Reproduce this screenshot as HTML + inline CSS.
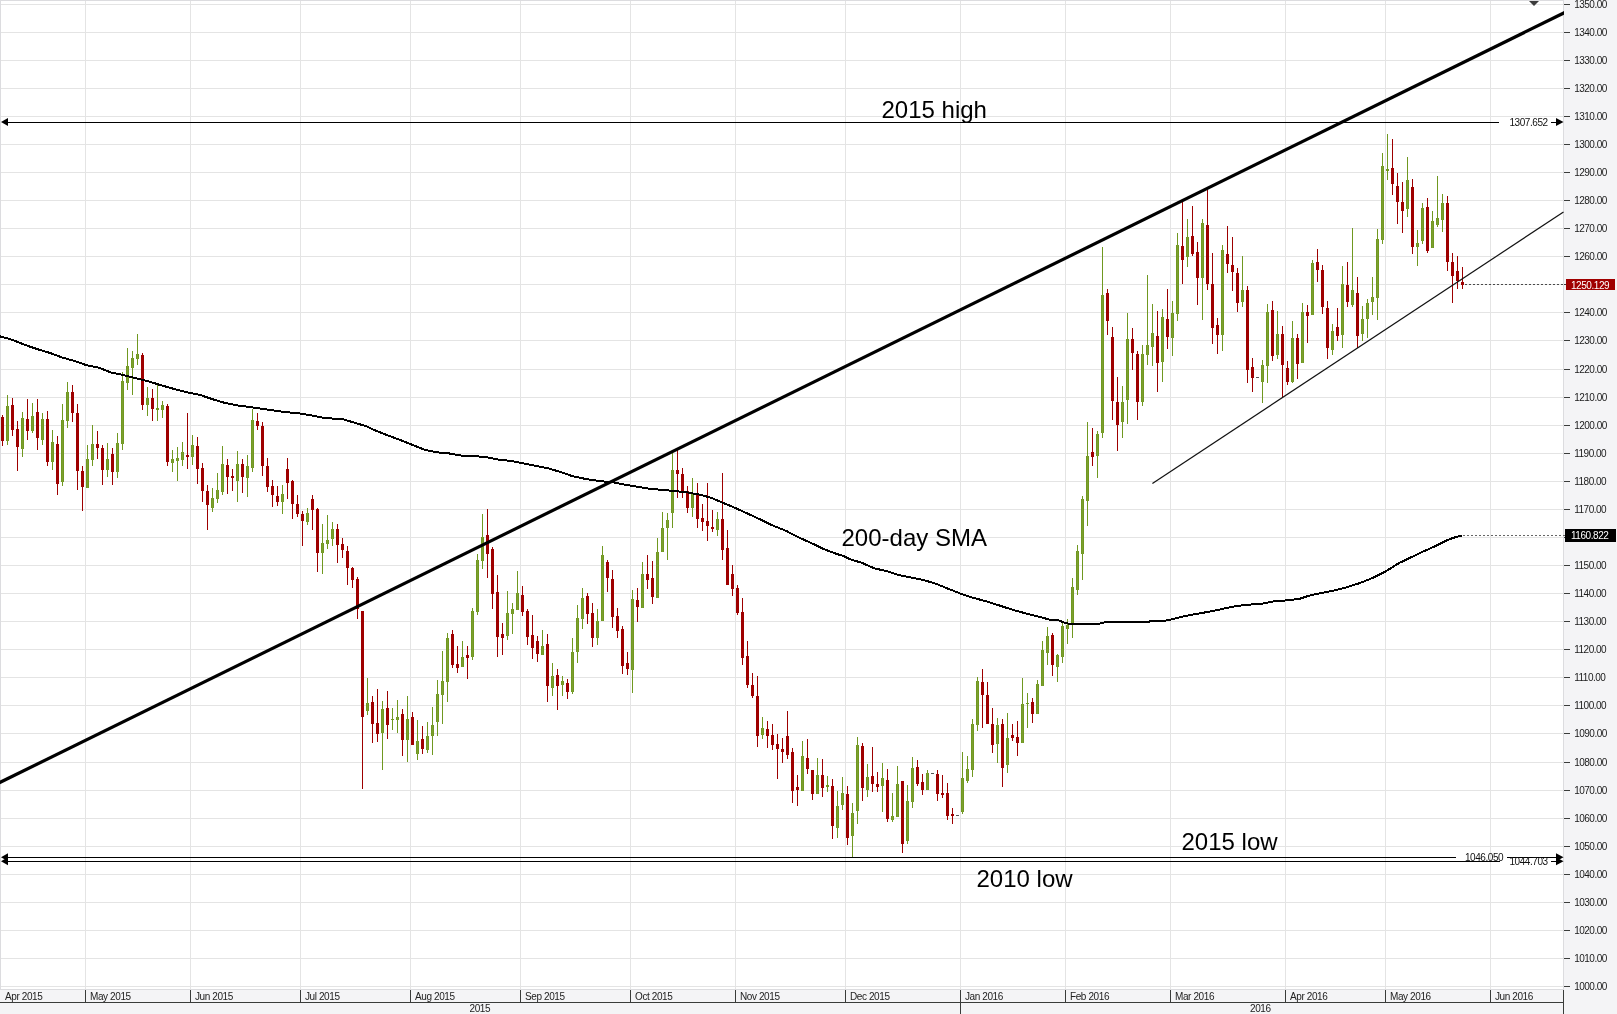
<!DOCTYPE html>
<html><head><meta charset="utf-8"><title>Gold chart</title>
<style>html,body{margin:0;padding:0;background:#f4f4f6;width:1617px;height:1014px;overflow:hidden}
svg text{font-family:"Liberation Sans",sans-serif}</style></head>
<body>
<svg width="1617" height="1014" viewBox="0 0 1617 1014" style="position:absolute;left:0;top:0;will-change:transform">
<rect x="0" y="0" width="1617" height="1014" fill="#f4f4f6"/>
<rect x="0" y="0" width="1563" height="989" fill="#ffffff"/>
<g shape-rendering="crispEdges">
<rect x="1" y="986" width="1562" height="1" fill="#e4e4e4"/>
<rect x="1" y="958" width="1562" height="1" fill="#e4e4e4"/>
<rect x="1" y="930" width="1562" height="1" fill="#e4e4e4"/>
<rect x="1" y="902" width="1562" height="1" fill="#e4e4e4"/>
<rect x="1" y="874" width="1562" height="1" fill="#e4e4e4"/>
<rect x="1" y="846" width="1562" height="1" fill="#e4e4e4"/>
<rect x="1" y="818" width="1562" height="1" fill="#e4e4e4"/>
<rect x="1" y="790" width="1562" height="1" fill="#e4e4e4"/>
<rect x="1" y="762" width="1562" height="1" fill="#e4e4e4"/>
<rect x="1" y="733" width="1562" height="1" fill="#e4e4e4"/>
<rect x="1" y="705" width="1562" height="1" fill="#e4e4e4"/>
<rect x="1" y="677" width="1562" height="1" fill="#e4e4e4"/>
<rect x="1" y="649" width="1562" height="1" fill="#e4e4e4"/>
<rect x="1" y="621" width="1562" height="1" fill="#e4e4e4"/>
<rect x="1" y="593" width="1562" height="1" fill="#e4e4e4"/>
<rect x="1" y="565" width="1562" height="1" fill="#e4e4e4"/>
<rect x="1" y="537" width="1562" height="1" fill="#e4e4e4"/>
<rect x="1" y="509" width="1562" height="1" fill="#e4e4e4"/>
<rect x="1" y="481" width="1562" height="1" fill="#e4e4e4"/>
<rect x="1" y="453" width="1562" height="1" fill="#e4e4e4"/>
<rect x="1" y="425" width="1562" height="1" fill="#e4e4e4"/>
<rect x="1" y="397" width="1562" height="1" fill="#e4e4e4"/>
<rect x="1" y="369" width="1562" height="1" fill="#e4e4e4"/>
<rect x="1" y="340" width="1562" height="1" fill="#e4e4e4"/>
<rect x="1" y="312" width="1562" height="1" fill="#e4e4e4"/>
<rect x="1" y="284" width="1562" height="1" fill="#e4e4e4"/>
<rect x="1" y="256" width="1562" height="1" fill="#e4e4e4"/>
<rect x="1" y="228" width="1562" height="1" fill="#e4e4e4"/>
<rect x="1" y="200" width="1562" height="1" fill="#e4e4e4"/>
<rect x="1" y="172" width="1562" height="1" fill="#e4e4e4"/>
<rect x="1" y="144" width="1562" height="1" fill="#e4e4e4"/>
<rect x="1" y="116" width="1562" height="1" fill="#e4e4e4"/>
<rect x="1" y="88" width="1562" height="1" fill="#e4e4e4"/>
<rect x="1" y="60" width="1562" height="1" fill="#e4e4e4"/>
<rect x="1" y="32" width="1562" height="1" fill="#e4e4e4"/>
<rect x="1" y="4" width="1562" height="1" fill="#e4e4e4"/>
<rect x="85" y="1" width="1" height="988" fill="#e4e4e4"/>
<rect x="190" y="1" width="1" height="988" fill="#e4e4e4"/>
<rect x="300" y="1" width="1" height="988" fill="#e4e4e4"/>
<rect x="410" y="1" width="1" height="988" fill="#e4e4e4"/>
<rect x="520" y="1" width="1" height="988" fill="#e4e4e4"/>
<rect x="630" y="1" width="1" height="988" fill="#e4e4e4"/>
<rect x="735" y="1" width="1" height="988" fill="#e4e4e4"/>
<rect x="845" y="1" width="1" height="988" fill="#e4e4e4"/>
<rect x="960" y="1" width="1" height="988" fill="#e4e4e4"/>
<rect x="1065" y="1" width="1" height="988" fill="#e4e4e4"/>
<rect x="1170" y="1" width="1" height="988" fill="#e4e4e4"/>
<rect x="1285" y="1" width="1" height="988" fill="#e4e4e4"/>
<rect x="1385" y="1" width="1" height="988" fill="#e4e4e4"/>
<rect x="1490" y="1" width="1" height="988" fill="#e4e4e4"/>
<rect x="0" y="0" width="1564" height="1" fill="#dcdcdf"/>
<rect x="0" y="0" width="1" height="990" fill="#dcdcdf"/>
<rect x="1563" y="0" width="1" height="990" fill="#dcdcdf"/>
<rect x="0" y="989" width="1564" height="1" fill="#dcdcdf"/>
</g>
<g shape-rendering="crispEdges">
<rect x="2" y="415" width="1" height="31" fill="#9e0000"/>
<rect x="1" y="417" width="3" height="24" fill="#9e0000"/>
<rect x="7" y="395" width="1" height="50" fill="#709820"/>
<rect x="6" y="406" width="3" height="35" fill="#709820"/>
<rect x="7" y="406" width="1" height="35" fill="#7c9f30"/>
<rect x="12" y="398" width="1" height="38" fill="#9e0000"/>
<rect x="11" y="405" width="3" height="25" fill="#9e0000"/>
<rect x="17" y="421" width="1" height="50" fill="#9e0000"/>
<rect x="16" y="429" width="3" height="18" fill="#9e0000"/>
<rect x="22" y="412" width="1" height="45" fill="#709820"/>
<rect x="21" y="418" width="3" height="31" fill="#709820"/>
<rect x="22" y="418" width="1" height="31" fill="#7c9f30"/>
<rect x="27" y="399" width="1" height="41" fill="#9e0000"/>
<rect x="26" y="419" width="3" height="12" fill="#9e0000"/>
<rect x="32" y="403" width="1" height="30" fill="#709820"/>
<rect x="31" y="416" width="3" height="15" fill="#709820"/>
<rect x="32" y="416" width="1" height="15" fill="#7c9f30"/>
<rect x="37" y="399" width="1" height="51" fill="#9e0000"/>
<rect x="36" y="412" width="3" height="26" fill="#9e0000"/>
<rect x="42" y="413" width="1" height="32" fill="#709820"/>
<rect x="41" y="419" width="3" height="21" fill="#709820"/>
<rect x="42" y="419" width="1" height="21" fill="#7c9f30"/>
<rect x="47" y="411" width="1" height="55" fill="#9e0000"/>
<rect x="46" y="419" width="3" height="43" fill="#9e0000"/>
<rect x="52" y="430" width="1" height="40" fill="#709820"/>
<rect x="51" y="442" width="3" height="20" fill="#709820"/>
<rect x="52" y="442" width="1" height="20" fill="#7c9f30"/>
<rect x="57" y="436" width="1" height="59" fill="#9e0000"/>
<rect x="56" y="444" width="3" height="40" fill="#9e0000"/>
<rect x="62" y="404" width="1" height="82" fill="#709820"/>
<rect x="61" y="420" width="3" height="62" fill="#709820"/>
<rect x="62" y="420" width="1" height="62" fill="#7c9f30"/>
<rect x="67" y="382" width="1" height="46" fill="#709820"/>
<rect x="66" y="392" width="3" height="29" fill="#709820"/>
<rect x="67" y="392" width="1" height="29" fill="#7c9f30"/>
<rect x="72" y="385" width="1" height="37" fill="#9e0000"/>
<rect x="71" y="392" width="3" height="21" fill="#9e0000"/>
<rect x="77" y="404" width="1" height="86" fill="#9e0000"/>
<rect x="76" y="413" width="3" height="58" fill="#9e0000"/>
<rect x="82" y="466" width="1" height="45" fill="#9e0000"/>
<rect x="81" y="471" width="3" height="16" fill="#9e0000"/>
<rect x="87" y="445" width="1" height="43" fill="#709820"/>
<rect x="86" y="459" width="3" height="29" fill="#709820"/>
<rect x="87" y="459" width="1" height="29" fill="#7c9f30"/>
<rect x="92" y="425" width="1" height="41" fill="#709820"/>
<rect x="91" y="444" width="3" height="16" fill="#709820"/>
<rect x="92" y="444" width="1" height="16" fill="#7c9f30"/>
<rect x="97" y="431" width="1" height="28" fill="#9e0000"/>
<rect x="96" y="444" width="3" height="4" fill="#9e0000"/>
<rect x="102" y="445" width="1" height="40" fill="#9e0000"/>
<rect x="101" y="448" width="3" height="22" fill="#9e0000"/>
<rect x="107" y="443" width="1" height="34" fill="#709820"/>
<rect x="106" y="459" width="3" height="11" fill="#709820"/>
<rect x="107" y="459" width="1" height="11" fill="#7c9f30"/>
<rect x="112" y="448" width="1" height="37" fill="#9e0000"/>
<rect x="111" y="454" width="3" height="18" fill="#9e0000"/>
<rect x="117" y="433" width="1" height="45" fill="#709820"/>
<rect x="116" y="443" width="3" height="29" fill="#709820"/>
<rect x="117" y="443" width="1" height="29" fill="#7c9f30"/>
<rect x="122" y="372" width="1" height="78" fill="#709820"/>
<rect x="121" y="381" width="3" height="63" fill="#709820"/>
<rect x="122" y="381" width="1" height="63" fill="#7c9f30"/>
<rect x="127" y="348" width="1" height="42" fill="#709820"/>
<rect x="126" y="366" width="3" height="17" fill="#709820"/>
<rect x="127" y="366" width="1" height="17" fill="#7c9f30"/>
<rect x="132" y="351" width="1" height="44" fill="#709820"/>
<rect x="131" y="358" width="3" height="10" fill="#709820"/>
<rect x="132" y="358" width="1" height="10" fill="#7c9f30"/>
<rect x="137" y="334" width="1" height="31" fill="#709820"/>
<rect x="136" y="354" width="3" height="5" fill="#709820"/>
<rect x="137" y="354" width="1" height="5" fill="#7c9f30"/>
<rect x="142" y="353" width="1" height="57" fill="#9e0000"/>
<rect x="141" y="355" width="3" height="50" fill="#9e0000"/>
<rect x="147" y="387" width="1" height="29" fill="#709820"/>
<rect x="146" y="398" width="3" height="7" fill="#709820"/>
<rect x="147" y="398" width="1" height="7" fill="#7c9f30"/>
<rect x="152" y="389" width="1" height="32" fill="#9e0000"/>
<rect x="151" y="398" width="3" height="11" fill="#9e0000"/>
<rect x="157" y="385" width="1" height="36" fill="#709820"/>
<rect x="156" y="408" width="3" height="2" fill="#709820"/>
<rect x="162" y="401" width="1" height="17" fill="#709820"/>
<rect x="161" y="405" width="3" height="5" fill="#709820"/>
<rect x="162" y="405" width="1" height="5" fill="#7c9f30"/>
<rect x="167" y="404" width="1" height="62" fill="#9e0000"/>
<rect x="166" y="406" width="3" height="56" fill="#9e0000"/>
<rect x="172" y="450" width="1" height="22" fill="#709820"/>
<rect x="171" y="459" width="3" height="4" fill="#709820"/>
<rect x="172" y="459" width="1" height="4" fill="#7c9f30"/>
<rect x="177" y="447" width="1" height="34" fill="#709820"/>
<rect x="176" y="458" width="3" height="3" fill="#709820"/>
<rect x="177" y="458" width="1" height="3" fill="#7c9f30"/>
<rect x="182" y="442" width="1" height="24" fill="#709820"/>
<rect x="181" y="452" width="3" height="8" fill="#709820"/>
<rect x="182" y="452" width="1" height="8" fill="#7c9f30"/>
<rect x="187" y="413" width="1" height="56" fill="#9e0000"/>
<rect x="186" y="455" width="3" height="2" fill="#9e0000"/>
<rect x="192" y="435" width="1" height="30" fill="#709820"/>
<rect x="191" y="445" width="3" height="12" fill="#709820"/>
<rect x="192" y="445" width="1" height="12" fill="#7c9f30"/>
<rect x="197" y="437" width="1" height="47" fill="#9e0000"/>
<rect x="196" y="446" width="3" height="23" fill="#9e0000"/>
<rect x="202" y="463" width="1" height="39" fill="#9e0000"/>
<rect x="201" y="468" width="3" height="23" fill="#9e0000"/>
<rect x="207" y="485" width="1" height="45" fill="#9e0000"/>
<rect x="206" y="491" width="3" height="14" fill="#9e0000"/>
<rect x="212" y="488" width="1" height="24" fill="#709820"/>
<rect x="211" y="498" width="3" height="10" fill="#709820"/>
<rect x="212" y="498" width="1" height="10" fill="#7c9f30"/>
<rect x="217" y="473" width="1" height="30" fill="#709820"/>
<rect x="216" y="490" width="3" height="9" fill="#709820"/>
<rect x="217" y="490" width="1" height="9" fill="#7c9f30"/>
<rect x="222" y="446" width="1" height="49" fill="#709820"/>
<rect x="221" y="464" width="3" height="28" fill="#709820"/>
<rect x="222" y="464" width="1" height="28" fill="#7c9f30"/>
<rect x="227" y="459" width="1" height="35" fill="#9e0000"/>
<rect x="226" y="465" width="3" height="12" fill="#9e0000"/>
<rect x="232" y="469" width="1" height="22" fill="#9e0000"/>
<rect x="231" y="476" width="3" height="2" fill="#9e0000"/>
<rect x="237" y="451" width="1" height="51" fill="#709820"/>
<rect x="236" y="464" width="3" height="17" fill="#709820"/>
<rect x="237" y="464" width="1" height="17" fill="#7c9f30"/>
<rect x="242" y="459" width="1" height="34" fill="#9e0000"/>
<rect x="241" y="464" width="3" height="13" fill="#9e0000"/>
<rect x="247" y="455" width="1" height="42" fill="#709820"/>
<rect x="246" y="466" width="3" height="12" fill="#709820"/>
<rect x="247" y="466" width="1" height="12" fill="#7c9f30"/>
<rect x="252" y="409" width="1" height="63" fill="#709820"/>
<rect x="251" y="420" width="3" height="48" fill="#709820"/>
<rect x="252" y="420" width="1" height="48" fill="#7c9f30"/>
<rect x="257" y="413" width="1" height="17" fill="#9e0000"/>
<rect x="256" y="421" width="3" height="5" fill="#9e0000"/>
<rect x="262" y="422" width="1" height="54" fill="#9e0000"/>
<rect x="261" y="426" width="3" height="40" fill="#9e0000"/>
<rect x="267" y="458" width="1" height="34" fill="#9e0000"/>
<rect x="266" y="466" width="3" height="21" fill="#9e0000"/>
<rect x="272" y="480" width="1" height="27" fill="#9e0000"/>
<rect x="271" y="486" width="3" height="9" fill="#9e0000"/>
<rect x="277" y="486" width="1" height="20" fill="#9e0000"/>
<rect x="276" y="496" width="3" height="6" fill="#9e0000"/>
<rect x="282" y="485" width="1" height="29" fill="#709820"/>
<rect x="281" y="494" width="3" height="8" fill="#709820"/>
<rect x="282" y="494" width="1" height="8" fill="#7c9f30"/>
<rect x="287" y="458" width="1" height="41" fill="#9e0000"/>
<rect x="286" y="469" width="3" height="14" fill="#9e0000"/>
<rect x="292" y="480" width="1" height="39" fill="#9e0000"/>
<rect x="291" y="481" width="3" height="23" fill="#9e0000"/>
<rect x="297" y="495" width="1" height="22" fill="#9e0000"/>
<rect x="296" y="504" width="3" height="10" fill="#9e0000"/>
<rect x="302" y="511" width="1" height="35" fill="#9e0000"/>
<rect x="301" y="514" width="3" height="7" fill="#9e0000"/>
<rect x="307" y="508" width="1" height="17" fill="#709820"/>
<rect x="306" y="513" width="3" height="9" fill="#709820"/>
<rect x="307" y="513" width="1" height="9" fill="#7c9f30"/>
<rect x="312" y="495" width="1" height="35" fill="#9e0000"/>
<rect x="311" y="499" width="3" height="11" fill="#9e0000"/>
<rect x="317" y="508" width="1" height="64" fill="#9e0000"/>
<rect x="316" y="509" width="3" height="44" fill="#9e0000"/>
<rect x="322" y="524" width="1" height="50" fill="#709820"/>
<rect x="321" y="543" width="3" height="10" fill="#709820"/>
<rect x="322" y="543" width="1" height="10" fill="#7c9f30"/>
<rect x="327" y="515" width="1" height="34" fill="#709820"/>
<rect x="326" y="540" width="3" height="4" fill="#709820"/>
<rect x="327" y="540" width="1" height="4" fill="#7c9f30"/>
<rect x="332" y="522" width="1" height="24" fill="#709820"/>
<rect x="331" y="529" width="3" height="10" fill="#709820"/>
<rect x="332" y="529" width="1" height="10" fill="#7c9f30"/>
<rect x="337" y="524" width="1" height="39" fill="#9e0000"/>
<rect x="336" y="529" width="3" height="16" fill="#9e0000"/>
<rect x="342" y="538" width="1" height="20" fill="#9e0000"/>
<rect x="341" y="544" width="3" height="6" fill="#9e0000"/>
<rect x="347" y="546" width="1" height="39" fill="#9e0000"/>
<rect x="346" y="551" width="3" height="17" fill="#9e0000"/>
<rect x="352" y="567" width="1" height="21" fill="#9e0000"/>
<rect x="351" y="568" width="3" height="12" fill="#9e0000"/>
<rect x="357" y="577" width="1" height="42" fill="#9e0000"/>
<rect x="356" y="579" width="3" height="30" fill="#9e0000"/>
<rect x="362" y="611" width="1" height="178" fill="#9e0000"/>
<rect x="361" y="611" width="3" height="106" fill="#9e0000"/>
<rect x="367" y="678" width="1" height="37" fill="#709820"/>
<rect x="366" y="703" width="3" height="8" fill="#709820"/>
<rect x="367" y="703" width="1" height="8" fill="#7c9f30"/>
<rect x="372" y="696" width="1" height="47" fill="#9e0000"/>
<rect x="371" y="702" width="3" height="22" fill="#9e0000"/>
<rect x="377" y="689" width="1" height="53" fill="#9e0000"/>
<rect x="376" y="723" width="3" height="11" fill="#9e0000"/>
<rect x="382" y="701" width="1" height="69" fill="#709820"/>
<rect x="381" y="709" width="3" height="24" fill="#709820"/>
<rect x="382" y="709" width="1" height="24" fill="#7c9f30"/>
<rect x="387" y="691" width="1" height="48" fill="#9e0000"/>
<rect x="386" y="708" width="3" height="17" fill="#9e0000"/>
<rect x="392" y="708" width="1" height="22" fill="#709820"/>
<rect x="391" y="719" width="3" height="1" fill="#709820"/>
<rect x="397" y="700" width="1" height="33" fill="#709820"/>
<rect x="396" y="717" width="3" height="3" fill="#709820"/>
<rect x="397" y="717" width="1" height="3" fill="#7c9f30"/>
<rect x="402" y="709" width="1" height="47" fill="#9e0000"/>
<rect x="401" y="714" width="3" height="26" fill="#9e0000"/>
<rect x="407" y="696" width="1" height="66" fill="#709820"/>
<rect x="406" y="719" width="3" height="21" fill="#709820"/>
<rect x="407" y="719" width="1" height="21" fill="#7c9f30"/>
<rect x="412" y="712" width="1" height="33" fill="#9e0000"/>
<rect x="411" y="717" width="3" height="28" fill="#9e0000"/>
<rect x="417" y="720" width="1" height="40" fill="#709820"/>
<rect x="416" y="741" width="3" height="13" fill="#709820"/>
<rect x="417" y="741" width="1" height="13" fill="#7c9f30"/>
<rect x="422" y="726" width="1" height="28" fill="#9e0000"/>
<rect x="421" y="739" width="3" height="10" fill="#9e0000"/>
<rect x="427" y="722" width="1" height="31" fill="#709820"/>
<rect x="426" y="736" width="3" height="14" fill="#709820"/>
<rect x="427" y="736" width="1" height="14" fill="#7c9f30"/>
<rect x="432" y="707" width="1" height="48" fill="#709820"/>
<rect x="431" y="725" width="3" height="11" fill="#709820"/>
<rect x="432" y="725" width="1" height="11" fill="#7c9f30"/>
<rect x="437" y="680" width="1" height="56" fill="#709820"/>
<rect x="436" y="694" width="3" height="28" fill="#709820"/>
<rect x="437" y="694" width="1" height="28" fill="#7c9f30"/>
<rect x="442" y="651" width="1" height="73" fill="#709820"/>
<rect x="441" y="681" width="3" height="14" fill="#709820"/>
<rect x="442" y="681" width="1" height="14" fill="#7c9f30"/>
<rect x="447" y="633" width="1" height="69" fill="#709820"/>
<rect x="446" y="638" width="3" height="44" fill="#709820"/>
<rect x="447" y="638" width="1" height="44" fill="#7c9f30"/>
<rect x="452" y="630" width="1" height="38" fill="#9e0000"/>
<rect x="451" y="634" width="3" height="31" fill="#9e0000"/>
<rect x="457" y="646" width="1" height="27" fill="#9e0000"/>
<rect x="456" y="664" width="3" height="4" fill="#9e0000"/>
<rect x="462" y="641" width="1" height="26" fill="#709820"/>
<rect x="461" y="657" width="3" height="10" fill="#709820"/>
<rect x="462" y="657" width="1" height="10" fill="#7c9f30"/>
<rect x="467" y="646" width="1" height="33" fill="#9e0000"/>
<rect x="466" y="655" width="3" height="3" fill="#9e0000"/>
<rect x="472" y="608" width="1" height="52" fill="#709820"/>
<rect x="471" y="611" width="3" height="46" fill="#709820"/>
<rect x="472" y="611" width="1" height="46" fill="#7c9f30"/>
<rect x="477" y="554" width="1" height="61" fill="#709820"/>
<rect x="476" y="560" width="3" height="52" fill="#709820"/>
<rect x="477" y="560" width="1" height="52" fill="#7c9f30"/>
<rect x="482" y="514" width="1" height="55" fill="#709820"/>
<rect x="481" y="537" width="3" height="24" fill="#709820"/>
<rect x="482" y="537" width="1" height="24" fill="#7c9f30"/>
<rect x="487" y="509" width="1" height="69" fill="#9e0000"/>
<rect x="486" y="535" width="3" height="19" fill="#9e0000"/>
<rect x="492" y="547" width="1" height="62" fill="#9e0000"/>
<rect x="491" y="549" width="3" height="45" fill="#9e0000"/>
<rect x="497" y="575" width="1" height="82" fill="#9e0000"/>
<rect x="496" y="592" width="3" height="45" fill="#9e0000"/>
<rect x="502" y="623" width="1" height="32" fill="#9e0000"/>
<rect x="501" y="634" width="3" height="4" fill="#9e0000"/>
<rect x="507" y="591" width="1" height="49" fill="#709820"/>
<rect x="506" y="613" width="3" height="23" fill="#709820"/>
<rect x="507" y="613" width="1" height="23" fill="#7c9f30"/>
<rect x="512" y="603" width="1" height="31" fill="#709820"/>
<rect x="511" y="609" width="3" height="5" fill="#709820"/>
<rect x="512" y="609" width="1" height="5" fill="#7c9f30"/>
<rect x="517" y="571" width="1" height="39" fill="#709820"/>
<rect x="516" y="593" width="3" height="17" fill="#709820"/>
<rect x="517" y="593" width="1" height="17" fill="#7c9f30"/>
<rect x="522" y="586" width="1" height="30" fill="#9e0000"/>
<rect x="521" y="595" width="3" height="17" fill="#9e0000"/>
<rect x="527" y="609" width="1" height="36" fill="#9e0000"/>
<rect x="526" y="611" width="3" height="26" fill="#9e0000"/>
<rect x="532" y="615" width="1" height="44" fill="#9e0000"/>
<rect x="531" y="635" width="3" height="13" fill="#9e0000"/>
<rect x="537" y="636" width="1" height="26" fill="#9e0000"/>
<rect x="536" y="641" width="3" height="13" fill="#9e0000"/>
<rect x="542" y="630" width="1" height="25" fill="#709820"/>
<rect x="541" y="646" width="3" height="9" fill="#709820"/>
<rect x="542" y="646" width="1" height="9" fill="#7c9f30"/>
<rect x="547" y="634" width="1" height="68" fill="#9e0000"/>
<rect x="546" y="644" width="3" height="42" fill="#9e0000"/>
<rect x="552" y="663" width="1" height="33" fill="#709820"/>
<rect x="551" y="676" width="3" height="12" fill="#709820"/>
<rect x="552" y="676" width="1" height="12" fill="#7c9f30"/>
<rect x="557" y="669" width="1" height="41" fill="#9e0000"/>
<rect x="556" y="675" width="3" height="11" fill="#9e0000"/>
<rect x="562" y="676" width="1" height="20" fill="#709820"/>
<rect x="561" y="681" width="3" height="4" fill="#709820"/>
<rect x="562" y="681" width="1" height="4" fill="#7c9f30"/>
<rect x="567" y="679" width="1" height="20" fill="#9e0000"/>
<rect x="566" y="683" width="3" height="9" fill="#9e0000"/>
<rect x="572" y="638" width="1" height="56" fill="#709820"/>
<rect x="571" y="652" width="3" height="40" fill="#709820"/>
<rect x="572" y="652" width="1" height="40" fill="#7c9f30"/>
<rect x="577" y="605" width="1" height="58" fill="#709820"/>
<rect x="576" y="618" width="3" height="34" fill="#709820"/>
<rect x="577" y="618" width="1" height="34" fill="#7c9f30"/>
<rect x="582" y="588" width="1" height="41" fill="#709820"/>
<rect x="581" y="598" width="3" height="21" fill="#709820"/>
<rect x="582" y="598" width="1" height="21" fill="#7c9f30"/>
<rect x="587" y="593" width="1" height="31" fill="#9e0000"/>
<rect x="586" y="596" width="3" height="18" fill="#9e0000"/>
<rect x="592" y="603" width="1" height="44" fill="#9e0000"/>
<rect x="591" y="613" width="3" height="25" fill="#9e0000"/>
<rect x="597" y="609" width="1" height="36" fill="#709820"/>
<rect x="596" y="621" width="3" height="17" fill="#709820"/>
<rect x="597" y="621" width="1" height="17" fill="#7c9f30"/>
<rect x="602" y="546" width="1" height="75" fill="#709820"/>
<rect x="601" y="555" width="3" height="66" fill="#709820"/>
<rect x="602" y="555" width="1" height="66" fill="#7c9f30"/>
<rect x="607" y="560" width="1" height="32" fill="#9e0000"/>
<rect x="606" y="562" width="3" height="16" fill="#9e0000"/>
<rect x="612" y="570" width="1" height="58" fill="#9e0000"/>
<rect x="611" y="579" width="3" height="38" fill="#9e0000"/>
<rect x="617" y="608" width="1" height="30" fill="#9e0000"/>
<rect x="616" y="616" width="3" height="15" fill="#9e0000"/>
<rect x="622" y="626" width="1" height="48" fill="#9e0000"/>
<rect x="621" y="629" width="3" height="37" fill="#9e0000"/>
<rect x="627" y="652" width="1" height="23" fill="#9e0000"/>
<rect x="626" y="663" width="3" height="6" fill="#9e0000"/>
<rect x="632" y="590" width="1" height="103" fill="#709820"/>
<rect x="631" y="599" width="3" height="71" fill="#709820"/>
<rect x="632" y="599" width="1" height="71" fill="#7c9f30"/>
<rect x="637" y="588" width="1" height="34" fill="#9e0000"/>
<rect x="636" y="600" width="3" height="7" fill="#9e0000"/>
<rect x="642" y="562" width="1" height="46" fill="#709820"/>
<rect x="641" y="574" width="3" height="34" fill="#709820"/>
<rect x="642" y="574" width="1" height="34" fill="#7c9f30"/>
<rect x="647" y="555" width="1" height="34" fill="#9e0000"/>
<rect x="646" y="574" width="3" height="6" fill="#9e0000"/>
<rect x="652" y="561" width="1" height="43" fill="#9e0000"/>
<rect x="651" y="578" width="3" height="19" fill="#9e0000"/>
<rect x="657" y="538" width="1" height="60" fill="#709820"/>
<rect x="656" y="552" width="3" height="46" fill="#709820"/>
<rect x="657" y="552" width="1" height="46" fill="#7c9f30"/>
<rect x="662" y="512" width="1" height="40" fill="#709820"/>
<rect x="661" y="528" width="3" height="24" fill="#709820"/>
<rect x="662" y="528" width="1" height="24" fill="#7c9f30"/>
<rect x="667" y="513" width="1" height="47" fill="#709820"/>
<rect x="666" y="520" width="3" height="8" fill="#709820"/>
<rect x="667" y="520" width="1" height="8" fill="#7c9f30"/>
<rect x="672" y="453" width="1" height="75" fill="#709820"/>
<rect x="671" y="470" width="3" height="43" fill="#709820"/>
<rect x="672" y="470" width="1" height="43" fill="#7c9f30"/>
<rect x="677" y="450" width="1" height="48" fill="#9e0000"/>
<rect x="676" y="470" width="3" height="4" fill="#9e0000"/>
<rect x="682" y="468" width="1" height="30" fill="#9e0000"/>
<rect x="681" y="474" width="3" height="17" fill="#9e0000"/>
<rect x="687" y="486" width="1" height="27" fill="#9e0000"/>
<rect x="686" y="491" width="3" height="17" fill="#9e0000"/>
<rect x="692" y="478" width="1" height="39" fill="#709820"/>
<rect x="691" y="494" width="3" height="14" fill="#709820"/>
<rect x="692" y="494" width="1" height="14" fill="#7c9f30"/>
<rect x="697" y="483" width="1" height="45" fill="#9e0000"/>
<rect x="696" y="495" width="3" height="24" fill="#9e0000"/>
<rect x="702" y="504" width="1" height="27" fill="#9e0000"/>
<rect x="701" y="518" width="3" height="4" fill="#9e0000"/>
<rect x="707" y="483" width="1" height="58" fill="#9e0000"/>
<rect x="706" y="521" width="3" height="5" fill="#9e0000"/>
<rect x="712" y="510" width="1" height="22" fill="#9e0000"/>
<rect x="711" y="527" width="3" height="2" fill="#9e0000"/>
<rect x="717" y="512" width="1" height="24" fill="#709820"/>
<rect x="716" y="519" width="3" height="11" fill="#709820"/>
<rect x="717" y="519" width="1" height="11" fill="#7c9f30"/>
<rect x="722" y="473" width="1" height="87" fill="#9e0000"/>
<rect x="721" y="519" width="3" height="31" fill="#9e0000"/>
<rect x="727" y="530" width="1" height="55" fill="#9e0000"/>
<rect x="726" y="548" width="3" height="37" fill="#9e0000"/>
<rect x="732" y="565" width="1" height="31" fill="#9e0000"/>
<rect x="731" y="574" width="3" height="15" fill="#9e0000"/>
<rect x="737" y="585" width="1" height="30" fill="#9e0000"/>
<rect x="736" y="588" width="3" height="25" fill="#9e0000"/>
<rect x="742" y="598" width="1" height="67" fill="#9e0000"/>
<rect x="741" y="612" width="3" height="46" fill="#9e0000"/>
<rect x="747" y="641" width="1" height="47" fill="#9e0000"/>
<rect x="746" y="656" width="3" height="29" fill="#9e0000"/>
<rect x="752" y="673" width="1" height="25" fill="#9e0000"/>
<rect x="751" y="685" width="3" height="11" fill="#9e0000"/>
<rect x="757" y="676" width="1" height="71" fill="#9e0000"/>
<rect x="756" y="696" width="3" height="40" fill="#9e0000"/>
<rect x="762" y="717" width="1" height="22" fill="#709820"/>
<rect x="761" y="728" width="3" height="7" fill="#709820"/>
<rect x="762" y="728" width="1" height="7" fill="#7c9f30"/>
<rect x="767" y="721" width="1" height="27" fill="#9e0000"/>
<rect x="766" y="729" width="3" height="7" fill="#9e0000"/>
<rect x="772" y="724" width="1" height="26" fill="#9e0000"/>
<rect x="771" y="735" width="3" height="10" fill="#9e0000"/>
<rect x="777" y="734" width="1" height="45" fill="#9e0000"/>
<rect x="776" y="744" width="3" height="5" fill="#9e0000"/>
<rect x="782" y="738" width="1" height="25" fill="#9e0000"/>
<rect x="781" y="749" width="3" height="3" fill="#9e0000"/>
<rect x="787" y="711" width="1" height="48" fill="#9e0000"/>
<rect x="786" y="736" width="3" height="19" fill="#9e0000"/>
<rect x="792" y="748" width="1" height="55" fill="#9e0000"/>
<rect x="791" y="752" width="3" height="39" fill="#9e0000"/>
<rect x="797" y="775" width="1" height="31" fill="#9e0000"/>
<rect x="796" y="787" width="3" height="3" fill="#9e0000"/>
<rect x="802" y="741" width="1" height="50" fill="#709820"/>
<rect x="801" y="756" width="3" height="35" fill="#709820"/>
<rect x="802" y="756" width="1" height="35" fill="#7c9f30"/>
<rect x="807" y="739" width="1" height="35" fill="#9e0000"/>
<rect x="806" y="758" width="3" height="11" fill="#9e0000"/>
<rect x="812" y="770" width="1" height="30" fill="#9e0000"/>
<rect x="811" y="770" width="3" height="24" fill="#9e0000"/>
<rect x="817" y="758" width="1" height="36" fill="#709820"/>
<rect x="816" y="775" width="3" height="19" fill="#709820"/>
<rect x="817" y="775" width="1" height="19" fill="#7c9f30"/>
<rect x="822" y="759" width="1" height="38" fill="#9e0000"/>
<rect x="821" y="775" width="3" height="13" fill="#9e0000"/>
<rect x="827" y="776" width="1" height="16" fill="#709820"/>
<rect x="826" y="785" width="3" height="2" fill="#709820"/>
<rect x="832" y="779" width="1" height="60" fill="#9e0000"/>
<rect x="831" y="786" width="3" height="40" fill="#9e0000"/>
<rect x="837" y="791" width="1" height="47" fill="#709820"/>
<rect x="836" y="806" width="3" height="22" fill="#709820"/>
<rect x="837" y="806" width="1" height="22" fill="#7c9f30"/>
<rect x="842" y="777" width="1" height="33" fill="#709820"/>
<rect x="841" y="793" width="3" height="12" fill="#709820"/>
<rect x="842" y="793" width="1" height="12" fill="#7c9f30"/>
<rect x="847" y="786" width="1" height="59" fill="#9e0000"/>
<rect x="846" y="794" width="3" height="44" fill="#9e0000"/>
<rect x="852" y="803" width="1" height="54" fill="#709820"/>
<rect x="851" y="813" width="3" height="23" fill="#709820"/>
<rect x="852" y="813" width="1" height="23" fill="#7c9f30"/>
<rect x="857" y="737" width="1" height="87" fill="#709820"/>
<rect x="856" y="745" width="3" height="66" fill="#709820"/>
<rect x="857" y="745" width="1" height="66" fill="#7c9f30"/>
<rect x="862" y="743" width="1" height="58" fill="#9e0000"/>
<rect x="861" y="746" width="3" height="42" fill="#9e0000"/>
<rect x="867" y="764" width="1" height="33" fill="#709820"/>
<rect x="866" y="777" width="3" height="13" fill="#709820"/>
<rect x="867" y="777" width="1" height="13" fill="#7c9f30"/>
<rect x="872" y="747" width="1" height="45" fill="#9e0000"/>
<rect x="871" y="776" width="3" height="8" fill="#9e0000"/>
<rect x="877" y="772" width="1" height="20" fill="#9e0000"/>
<rect x="876" y="784" width="3" height="3" fill="#9e0000"/>
<rect x="882" y="763" width="1" height="49" fill="#709820"/>
<rect x="881" y="778" width="3" height="8" fill="#709820"/>
<rect x="882" y="778" width="1" height="8" fill="#7c9f30"/>
<rect x="887" y="769" width="1" height="53" fill="#9e0000"/>
<rect x="886" y="780" width="3" height="39" fill="#9e0000"/>
<rect x="892" y="793" width="1" height="29" fill="#709820"/>
<rect x="891" y="816" width="3" height="4" fill="#709820"/>
<rect x="892" y="816" width="1" height="4" fill="#7c9f30"/>
<rect x="897" y="766" width="1" height="51" fill="#709820"/>
<rect x="896" y="784" width="3" height="33" fill="#709820"/>
<rect x="897" y="784" width="1" height="33" fill="#7c9f30"/>
<rect x="902" y="781" width="1" height="72" fill="#9e0000"/>
<rect x="901" y="781" width="3" height="63" fill="#9e0000"/>
<rect x="907" y="785" width="1" height="59" fill="#709820"/>
<rect x="906" y="801" width="3" height="40" fill="#709820"/>
<rect x="907" y="801" width="1" height="40" fill="#7c9f30"/>
<rect x="912" y="757" width="1" height="51" fill="#709820"/>
<rect x="911" y="768" width="3" height="34" fill="#709820"/>
<rect x="912" y="768" width="1" height="34" fill="#7c9f30"/>
<rect x="917" y="760" width="1" height="26" fill="#9e0000"/>
<rect x="916" y="767" width="3" height="17" fill="#9e0000"/>
<rect x="922" y="774" width="1" height="21" fill="#9e0000"/>
<rect x="921" y="782" width="3" height="8" fill="#9e0000"/>
<rect x="927" y="770" width="1" height="20" fill="#709820"/>
<rect x="926" y="773" width="3" height="17" fill="#709820"/>
<rect x="927" y="773" width="1" height="17" fill="#7c9f30"/>
<rect x="937" y="770" width="1" height="31" fill="#9e0000"/>
<rect x="936" y="774" width="3" height="20" fill="#9e0000"/>
<rect x="942" y="775" width="1" height="23" fill="#9e0000"/>
<rect x="941" y="793" width="3" height="2" fill="#9e0000"/>
<rect x="947" y="783" width="1" height="37" fill="#9e0000"/>
<rect x="946" y="793" width="3" height="23" fill="#9e0000"/>
<rect x="952" y="808" width="1" height="16" fill="#9e0000"/>
<rect x="951" y="814" width="3" height="2" fill="#9e0000"/>
<rect x="962" y="752" width="1" height="62" fill="#709820"/>
<rect x="961" y="778" width="3" height="34" fill="#709820"/>
<rect x="962" y="778" width="1" height="34" fill="#7c9f30"/>
<rect x="967" y="756" width="1" height="27" fill="#709820"/>
<rect x="966" y="769" width="3" height="12" fill="#709820"/>
<rect x="967" y="769" width="1" height="12" fill="#7c9f30"/>
<rect x="972" y="719" width="1" height="58" fill="#709820"/>
<rect x="971" y="724" width="3" height="46" fill="#709820"/>
<rect x="972" y="724" width="1" height="46" fill="#7c9f30"/>
<rect x="977" y="677" width="1" height="54" fill="#709820"/>
<rect x="976" y="681" width="3" height="44" fill="#709820"/>
<rect x="977" y="681" width="1" height="44" fill="#7c9f30"/>
<rect x="982" y="669" width="1" height="59" fill="#9e0000"/>
<rect x="981" y="682" width="3" height="13" fill="#9e0000"/>
<rect x="987" y="682" width="1" height="42" fill="#9e0000"/>
<rect x="986" y="695" width="3" height="29" fill="#9e0000"/>
<rect x="992" y="708" width="1" height="45" fill="#9e0000"/>
<rect x="991" y="724" width="3" height="21" fill="#9e0000"/>
<rect x="997" y="718" width="1" height="45" fill="#709820"/>
<rect x="996" y="725" width="3" height="19" fill="#709820"/>
<rect x="997" y="725" width="1" height="19" fill="#7c9f30"/>
<rect x="1002" y="719" width="1" height="68" fill="#9e0000"/>
<rect x="1001" y="724" width="3" height="44" fill="#9e0000"/>
<rect x="1007" y="713" width="1" height="60" fill="#709820"/>
<rect x="1006" y="738" width="3" height="27" fill="#709820"/>
<rect x="1007" y="738" width="1" height="27" fill="#7c9f30"/>
<rect x="1012" y="724" width="1" height="17" fill="#9e0000"/>
<rect x="1011" y="735" width="3" height="3" fill="#9e0000"/>
<rect x="1017" y="721" width="1" height="35" fill="#9e0000"/>
<rect x="1016" y="737" width="3" height="6" fill="#9e0000"/>
<rect x="1022" y="678" width="1" height="65" fill="#709820"/>
<rect x="1021" y="704" width="3" height="39" fill="#709820"/>
<rect x="1022" y="704" width="1" height="39" fill="#7c9f30"/>
<rect x="1027" y="693" width="1" height="35" fill="#709820"/>
<rect x="1026" y="703" width="3" height="1" fill="#709820"/>
<rect x="1032" y="698" width="1" height="25" fill="#9e0000"/>
<rect x="1031" y="702" width="3" height="12" fill="#9e0000"/>
<rect x="1037" y="680" width="1" height="34" fill="#709820"/>
<rect x="1036" y="684" width="3" height="30" fill="#709820"/>
<rect x="1037" y="684" width="1" height="30" fill="#7c9f30"/>
<rect x="1042" y="641" width="1" height="45" fill="#709820"/>
<rect x="1041" y="650" width="3" height="36" fill="#709820"/>
<rect x="1042" y="650" width="1" height="36" fill="#7c9f30"/>
<rect x="1047" y="627" width="1" height="38" fill="#709820"/>
<rect x="1046" y="636" width="3" height="17" fill="#709820"/>
<rect x="1047" y="636" width="1" height="17" fill="#7c9f30"/>
<rect x="1052" y="633" width="1" height="43" fill="#9e0000"/>
<rect x="1051" y="635" width="3" height="30" fill="#9e0000"/>
<rect x="1057" y="654" width="1" height="28" fill="#709820"/>
<rect x="1056" y="655" width="3" height="12" fill="#709820"/>
<rect x="1057" y="655" width="1" height="12" fill="#7c9f30"/>
<rect x="1062" y="623" width="1" height="40" fill="#709820"/>
<rect x="1061" y="626" width="3" height="31" fill="#709820"/>
<rect x="1062" y="626" width="1" height="31" fill="#7c9f30"/>
<rect x="1067" y="619" width="1" height="25" fill="#709820"/>
<rect x="1066" y="625" width="3" height="4" fill="#709820"/>
<rect x="1067" y="625" width="1" height="4" fill="#7c9f30"/>
<rect x="1072" y="578" width="1" height="60" fill="#709820"/>
<rect x="1071" y="587" width="3" height="37" fill="#709820"/>
<rect x="1072" y="587" width="1" height="37" fill="#7c9f30"/>
<rect x="1077" y="545" width="1" height="50" fill="#709820"/>
<rect x="1076" y="551" width="3" height="39" fill="#709820"/>
<rect x="1077" y="551" width="1" height="39" fill="#7c9f30"/>
<rect x="1082" y="496" width="1" height="84" fill="#709820"/>
<rect x="1081" y="499" width="3" height="55" fill="#709820"/>
<rect x="1082" y="499" width="1" height="55" fill="#7c9f30"/>
<rect x="1087" y="422" width="1" height="104" fill="#709820"/>
<rect x="1086" y="456" width="3" height="45" fill="#709820"/>
<rect x="1087" y="456" width="1" height="45" fill="#7c9f30"/>
<rect x="1092" y="428" width="1" height="38" fill="#9e0000"/>
<rect x="1091" y="452" width="3" height="5" fill="#9e0000"/>
<rect x="1097" y="431" width="1" height="47" fill="#709820"/>
<rect x="1096" y="434" width="3" height="22" fill="#709820"/>
<rect x="1097" y="434" width="1" height="22" fill="#7c9f30"/>
<rect x="1102" y="247" width="1" height="191" fill="#709820"/>
<rect x="1101" y="295" width="3" height="138" fill="#709820"/>
<rect x="1102" y="295" width="1" height="138" fill="#7c9f30"/>
<rect x="1107" y="289" width="1" height="46" fill="#9e0000"/>
<rect x="1106" y="293" width="3" height="28" fill="#9e0000"/>
<rect x="1112" y="327" width="1" height="93" fill="#9e0000"/>
<rect x="1111" y="337" width="3" height="64" fill="#9e0000"/>
<rect x="1117" y="377" width="1" height="74" fill="#9e0000"/>
<rect x="1116" y="402" width="3" height="23" fill="#9e0000"/>
<rect x="1122" y="386" width="1" height="52" fill="#709820"/>
<rect x="1121" y="402" width="3" height="20" fill="#709820"/>
<rect x="1122" y="402" width="1" height="20" fill="#7c9f30"/>
<rect x="1127" y="313" width="1" height="111" fill="#709820"/>
<rect x="1126" y="339" width="3" height="61" fill="#709820"/>
<rect x="1127" y="339" width="1" height="61" fill="#7c9f30"/>
<rect x="1132" y="328" width="1" height="42" fill="#9e0000"/>
<rect x="1131" y="339" width="3" height="14" fill="#9e0000"/>
<rect x="1137" y="351" width="1" height="69" fill="#9e0000"/>
<rect x="1136" y="354" width="3" height="48" fill="#9e0000"/>
<rect x="1142" y="345" width="1" height="61" fill="#709820"/>
<rect x="1141" y="354" width="3" height="48" fill="#709820"/>
<rect x="1142" y="354" width="1" height="48" fill="#7c9f30"/>
<rect x="1147" y="275" width="1" height="90" fill="#709820"/>
<rect x="1146" y="345" width="3" height="10" fill="#709820"/>
<rect x="1147" y="345" width="1" height="10" fill="#7c9f30"/>
<rect x="1152" y="304" width="1" height="62" fill="#709820"/>
<rect x="1151" y="333" width="3" height="14" fill="#709820"/>
<rect x="1152" y="333" width="1" height="14" fill="#7c9f30"/>
<rect x="1157" y="311" width="1" height="81" fill="#9e0000"/>
<rect x="1156" y="336" width="3" height="27" fill="#9e0000"/>
<rect x="1162" y="309" width="1" height="73" fill="#709820"/>
<rect x="1161" y="317" width="3" height="45" fill="#709820"/>
<rect x="1162" y="317" width="1" height="45" fill="#7c9f30"/>
<rect x="1167" y="289" width="1" height="60" fill="#9e0000"/>
<rect x="1166" y="319" width="3" height="18" fill="#9e0000"/>
<rect x="1172" y="301" width="1" height="55" fill="#709820"/>
<rect x="1171" y="313" width="3" height="25" fill="#709820"/>
<rect x="1172" y="313" width="1" height="25" fill="#7c9f30"/>
<rect x="1177" y="233" width="1" height="88" fill="#709820"/>
<rect x="1176" y="245" width="3" height="69" fill="#709820"/>
<rect x="1177" y="245" width="1" height="69" fill="#7c9f30"/>
<rect x="1182" y="202" width="1" height="82" fill="#9e0000"/>
<rect x="1181" y="246" width="3" height="14" fill="#9e0000"/>
<rect x="1187" y="219" width="1" height="48" fill="#709820"/>
<rect x="1186" y="237" width="3" height="20" fill="#709820"/>
<rect x="1187" y="237" width="1" height="20" fill="#7c9f30"/>
<rect x="1192" y="206" width="1" height="50" fill="#9e0000"/>
<rect x="1191" y="236" width="3" height="18" fill="#9e0000"/>
<rect x="1197" y="242" width="1" height="63" fill="#9e0000"/>
<rect x="1196" y="252" width="3" height="26" fill="#9e0000"/>
<rect x="1202" y="219" width="1" height="101" fill="#709820"/>
<rect x="1201" y="223" width="3" height="55" fill="#709820"/>
<rect x="1202" y="223" width="1" height="55" fill="#7c9f30"/>
<rect x="1207" y="190" width="1" height="100" fill="#9e0000"/>
<rect x="1206" y="225" width="3" height="59" fill="#9e0000"/>
<rect x="1212" y="253" width="1" height="91" fill="#9e0000"/>
<rect x="1211" y="284" width="3" height="44" fill="#9e0000"/>
<rect x="1217" y="318" width="1" height="36" fill="#9e0000"/>
<rect x="1216" y="325" width="3" height="10" fill="#9e0000"/>
<rect x="1222" y="245" width="1" height="106" fill="#709820"/>
<rect x="1221" y="250" width="3" height="85" fill="#709820"/>
<rect x="1222" y="250" width="1" height="85" fill="#7c9f30"/>
<rect x="1227" y="226" width="1" height="47" fill="#9e0000"/>
<rect x="1226" y="254" width="3" height="10" fill="#9e0000"/>
<rect x="1232" y="237" width="1" height="54" fill="#9e0000"/>
<rect x="1231" y="265" width="3" height="7" fill="#9e0000"/>
<rect x="1237" y="268" width="1" height="44" fill="#9e0000"/>
<rect x="1236" y="273" width="3" height="30" fill="#9e0000"/>
<rect x="1242" y="256" width="1" height="51" fill="#709820"/>
<rect x="1241" y="290" width="3" height="12" fill="#709820"/>
<rect x="1242" y="290" width="1" height="12" fill="#7c9f30"/>
<rect x="1247" y="286" width="1" height="97" fill="#9e0000"/>
<rect x="1246" y="290" width="3" height="80" fill="#9e0000"/>
<rect x="1252" y="358" width="1" height="34" fill="#9e0000"/>
<rect x="1251" y="367" width="3" height="11" fill="#9e0000"/>
<rect x="1262" y="360" width="1" height="43" fill="#709820"/>
<rect x="1261" y="365" width="3" height="17" fill="#709820"/>
<rect x="1262" y="365" width="1" height="17" fill="#7c9f30"/>
<rect x="1267" y="304" width="1" height="79" fill="#709820"/>
<rect x="1266" y="312" width="3" height="54" fill="#709820"/>
<rect x="1267" y="312" width="1" height="54" fill="#7c9f30"/>
<rect x="1272" y="301" width="1" height="60" fill="#9e0000"/>
<rect x="1271" y="310" width="3" height="46" fill="#9e0000"/>
<rect x="1277" y="311" width="1" height="48" fill="#709820"/>
<rect x="1276" y="334" width="3" height="21" fill="#709820"/>
<rect x="1277" y="334" width="1" height="21" fill="#7c9f30"/>
<rect x="1282" y="326" width="1" height="72" fill="#9e0000"/>
<rect x="1281" y="334" width="3" height="31" fill="#9e0000"/>
<rect x="1287" y="361" width="1" height="24" fill="#9e0000"/>
<rect x="1286" y="368" width="3" height="14" fill="#9e0000"/>
<rect x="1292" y="321" width="1" height="62" fill="#709820"/>
<rect x="1291" y="338" width="3" height="44" fill="#709820"/>
<rect x="1292" y="338" width="1" height="44" fill="#7c9f30"/>
<rect x="1297" y="334" width="1" height="45" fill="#9e0000"/>
<rect x="1296" y="338" width="3" height="26" fill="#9e0000"/>
<rect x="1302" y="303" width="1" height="60" fill="#709820"/>
<rect x="1301" y="312" width="3" height="51" fill="#709820"/>
<rect x="1302" y="312" width="1" height="51" fill="#7c9f30"/>
<rect x="1307" y="305" width="1" height="38" fill="#9e0000"/>
<rect x="1306" y="312" width="3" height="4" fill="#9e0000"/>
<rect x="1312" y="260" width="1" height="55" fill="#709820"/>
<rect x="1311" y="263" width="3" height="52" fill="#709820"/>
<rect x="1312" y="263" width="1" height="52" fill="#7c9f30"/>
<rect x="1317" y="249" width="1" height="33" fill="#9e0000"/>
<rect x="1316" y="262" width="3" height="8" fill="#9e0000"/>
<rect x="1322" y="265" width="1" height="49" fill="#9e0000"/>
<rect x="1321" y="270" width="3" height="37" fill="#9e0000"/>
<rect x="1327" y="301" width="1" height="58" fill="#9e0000"/>
<rect x="1326" y="308" width="3" height="40" fill="#9e0000"/>
<rect x="1332" y="324" width="1" height="31" fill="#709820"/>
<rect x="1331" y="331" width="3" height="19" fill="#709820"/>
<rect x="1332" y="331" width="1" height="19" fill="#7c9f30"/>
<rect x="1337" y="308" width="1" height="33" fill="#9e0000"/>
<rect x="1336" y="327" width="3" height="9" fill="#9e0000"/>
<rect x="1342" y="266" width="1" height="82" fill="#709820"/>
<rect x="1341" y="284" width="3" height="51" fill="#709820"/>
<rect x="1342" y="284" width="1" height="51" fill="#7c9f30"/>
<rect x="1347" y="262" width="1" height="45" fill="#9e0000"/>
<rect x="1346" y="285" width="3" height="17" fill="#9e0000"/>
<rect x="1352" y="228" width="1" height="79" fill="#709820"/>
<rect x="1351" y="290" width="3" height="15" fill="#709820"/>
<rect x="1352" y="290" width="1" height="15" fill="#7c9f30"/>
<rect x="1357" y="277" width="1" height="71" fill="#9e0000"/>
<rect x="1356" y="293" width="3" height="43" fill="#9e0000"/>
<rect x="1362" y="306" width="1" height="35" fill="#709820"/>
<rect x="1361" y="319" width="3" height="15" fill="#709820"/>
<rect x="1362" y="319" width="1" height="15" fill="#7c9f30"/>
<rect x="1367" y="299" width="1" height="39" fill="#709820"/>
<rect x="1366" y="303" width="3" height="16" fill="#709820"/>
<rect x="1367" y="303" width="1" height="16" fill="#7c9f30"/>
<rect x="1372" y="277" width="1" height="38" fill="#709820"/>
<rect x="1371" y="297" width="3" height="5" fill="#709820"/>
<rect x="1372" y="297" width="1" height="5" fill="#7c9f30"/>
<rect x="1377" y="229" width="1" height="91" fill="#709820"/>
<rect x="1376" y="239" width="3" height="59" fill="#709820"/>
<rect x="1377" y="239" width="1" height="59" fill="#7c9f30"/>
<rect x="1382" y="153" width="1" height="91" fill="#709820"/>
<rect x="1381" y="166" width="3" height="74" fill="#709820"/>
<rect x="1382" y="166" width="1" height="74" fill="#7c9f30"/>
<rect x="1387" y="134" width="1" height="46" fill="#709820"/>
<rect x="1386" y="169" width="3" height="2" fill="#709820"/>
<rect x="1392" y="139" width="1" height="56" fill="#9e0000"/>
<rect x="1391" y="168" width="3" height="16" fill="#9e0000"/>
<rect x="1397" y="173" width="1" height="51" fill="#9e0000"/>
<rect x="1396" y="186" width="3" height="16" fill="#9e0000"/>
<rect x="1402" y="182" width="1" height="51" fill="#9e0000"/>
<rect x="1401" y="202" width="3" height="9" fill="#9e0000"/>
<rect x="1407" y="157" width="1" height="60" fill="#709820"/>
<rect x="1406" y="180" width="3" height="29" fill="#709820"/>
<rect x="1407" y="180" width="1" height="29" fill="#7c9f30"/>
<rect x="1412" y="179" width="1" height="75" fill="#9e0000"/>
<rect x="1411" y="187" width="3" height="60" fill="#9e0000"/>
<rect x="1417" y="230" width="1" height="36" fill="#709820"/>
<rect x="1416" y="243" width="3" height="4" fill="#709820"/>
<rect x="1417" y="243" width="1" height="4" fill="#7c9f30"/>
<rect x="1422" y="203" width="1" height="41" fill="#709820"/>
<rect x="1421" y="208" width="3" height="33" fill="#709820"/>
<rect x="1422" y="208" width="1" height="33" fill="#7c9f30"/>
<rect x="1427" y="198" width="1" height="55" fill="#9e0000"/>
<rect x="1426" y="207" width="3" height="44" fill="#9e0000"/>
<rect x="1432" y="211" width="1" height="37" fill="#709820"/>
<rect x="1431" y="221" width="3" height="27" fill="#709820"/>
<rect x="1432" y="221" width="1" height="27" fill="#7c9f30"/>
<rect x="1437" y="176" width="1" height="51" fill="#709820"/>
<rect x="1436" y="218" width="3" height="7" fill="#709820"/>
<rect x="1437" y="218" width="1" height="7" fill="#7c9f30"/>
<rect x="1442" y="194" width="1" height="38" fill="#709820"/>
<rect x="1441" y="203" width="3" height="17" fill="#709820"/>
<rect x="1442" y="203" width="1" height="17" fill="#7c9f30"/>
<rect x="1447" y="196" width="1" height="75" fill="#9e0000"/>
<rect x="1446" y="203" width="3" height="59" fill="#9e0000"/>
<rect x="1452" y="253" width="1" height="50" fill="#9e0000"/>
<rect x="1451" y="262" width="3" height="14" fill="#9e0000"/>
<rect x="1457" y="256" width="1" height="33" fill="#9e0000"/>
<rect x="1456" y="271" width="3" height="10" fill="#9e0000"/>
<rect x="1462" y="267" width="1" height="22" fill="#9e0000"/>
<rect x="1461" y="282" width="3" height="3" fill="#9e0000"/>
<rect x="931" y="773" width="3" height="1" fill="#555"/>
<rect x="956" y="815" width="3" height="1" fill="#555"/>
<rect x="1256" y="377" width="3" height="1" fill="#555"/>
</g>
<polyline points="0.0,336.4 12.4,339.8 24.7,344.8 37.1,349.1 49.5,352.8 61.8,357.4 74.2,360.9 86.6,365.2 98.9,367.7 111.3,372.6 123.7,375.1 136.0,378.2 148.4,381.3 160.8,385.2 173.2,388.7 185.5,392.0 200.0,394.9 212.4,399.2 224.7,402.9 237.1,405.4 249.5,407.0 261.8,408.7 274.2,410.6 286.6,412.2 298.9,413.4 311.3,415.3 323.7,417.8 336.0,418.8 343.5,419.4 348.4,420.9 360.8,424.6 367.0,426.4 373.2,429.5 385.5,434.5 400.0,439.9 412.4,444.8 424.7,449.8 437.1,452.3 449.5,453.5 461.8,455.6 474.2,456.0 486.6,457.2 498.9,459.7 511.3,460.9 523.7,463.4 536.0,465.9 548.4,468.3 560.8,472.1 573.2,476.4 585.5,478.9 600.0,481.2 612.4,482.1 624.7,484.6 637.1,486.7 649.5,488.8 661.8,489.8 674.2,491.0 686.6,492.3 698.9,494.5 711.3,497.8 723.7,503.1 736.0,508.3 748.4,513.9 760.8,519.7 773.2,525.7 785.5,530.6 800.0,538.0 812.4,543.6 824.7,549.5 837.1,554.1 843.3,556.0 849.5,559.1 861.8,562.8 874.2,568.3 886.6,571.1 898.9,575.1 911.3,577.6 923.7,580.1 936.0,583.8 948.4,588.8 960.8,593.7 973.2,597.8 985.5,601.1 1000.0,605.7 1012.4,609.7 1024.7,613.1 1037.1,616.2 1049.5,619.6 1058.1,620.2 1064.3,622.7 1069.3,623.9 1086.6,623.9 1098.9,623.9 1105.1,622.1 1111.3,621.8 1148.4,621.8 1152.1,620.8 1164.5,620.8 1173.2,619.0 1185.5,615.9 1200.0,613.3 1212.4,611.1 1224.7,608.4 1237.1,605.9 1249.5,604.6 1261.8,603.7 1274.2,601.2 1286.6,600.4 1298.9,599.0 1311.3,595.0 1323.7,592.6 1336.0,590.1 1348.4,586.8 1360.8,582.7 1373.2,577.7 1385.5,571.5 1398.6,563.3 1410.9,557.4 1423.3,551.5 1435.7,546.0 1448.0,539.8 1454.2,537.6 1462.0,535.5" fill="none" stroke="#000" stroke-width="2" stroke-linejoin="round" shape-rendering="crispEdges"/>
<line x1="1463" y1="535.5" x2="1565" y2="535.5" stroke="#666" stroke-width="1" stroke-dasharray="2,2"/>
<line x1="1465" y1="284.5" x2="1566" y2="284.5" stroke="#4a4a4a" stroke-width="1" stroke-dasharray="2,2"/>
<defs><clipPath id="cc"><rect x="0" y="0" width="1564" height="989"/></clipPath></defs>
<line x1="-10" y1="787.32" x2="1573" y2="8.48" stroke="#000" stroke-width="3.2" clip-path="url(#cc)"/>
<line x1="1152.4" y1="483.5" x2="1563.5" y2="212" stroke="#111" stroke-width="1.2"/>
<g shape-rendering="crispEdges">
<rect x="8" y="122" width="1491" height="1" fill="#000"/>
<rect x="1551" y="122" width="5" height="1" fill="#000"/>
<rect x="8" y="857" width="1448" height="1" fill="#000"/>
<rect x="1507" y="857" width="49" height="1" fill="#000"/>
<rect x="8" y="861" width="1492" height="1" fill="#000"/>
<rect x="1551" y="861" width="5" height="1" fill="#000"/>
</g>
<polygon points="1,122.1 8,118.1 8,126.1" fill="#000"/>
<polygon points="1563.5,122.1 1556,118.1 1556,126.1" fill="#000"/>
<polygon points="1,857.2 8,853.2 8,861.2" fill="#000"/>
<polygon points="1563.5,857.2 1556,853.2 1556,861.2" fill="#000"/>
<polygon points="1,861.2 8,857.2 8,865.2" fill="#000"/>
<polygon points="1563.5,861.2 1556,857.2 1556,865.2" fill="#000"/>
<g shape-rendering="crispEdges">
<rect x="1564" y="986" width="6" height="1" fill="#3a3c3a"/>
<rect x="1564" y="958" width="6" height="1" fill="#3a3c3a"/>
<rect x="1564" y="930" width="6" height="1" fill="#3a3c3a"/>
<rect x="1564" y="902" width="6" height="1" fill="#3a3c3a"/>
<rect x="1564" y="874" width="6" height="1" fill="#3a3c3a"/>
<rect x="1564" y="846" width="6" height="1" fill="#3a3c3a"/>
<rect x="1564" y="818" width="6" height="1" fill="#3a3c3a"/>
<rect x="1564" y="790" width="6" height="1" fill="#3a3c3a"/>
<rect x="1564" y="762" width="6" height="1" fill="#3a3c3a"/>
<rect x="1564" y="733" width="6" height="1" fill="#3a3c3a"/>
<rect x="1564" y="705" width="6" height="1" fill="#3a3c3a"/>
<rect x="1564" y="677" width="6" height="1" fill="#3a3c3a"/>
<rect x="1564" y="649" width="6" height="1" fill="#3a3c3a"/>
<rect x="1564" y="621" width="6" height="1" fill="#3a3c3a"/>
<rect x="1564" y="593" width="6" height="1" fill="#3a3c3a"/>
<rect x="1564" y="565" width="6" height="1" fill="#3a3c3a"/>
<rect x="1564" y="537" width="6" height="1" fill="#3a3c3a"/>
<rect x="1564" y="509" width="6" height="1" fill="#3a3c3a"/>
<rect x="1564" y="481" width="6" height="1" fill="#3a3c3a"/>
<rect x="1564" y="453" width="6" height="1" fill="#3a3c3a"/>
<rect x="1564" y="425" width="6" height="1" fill="#3a3c3a"/>
<rect x="1564" y="397" width="6" height="1" fill="#3a3c3a"/>
<rect x="1564" y="369" width="6" height="1" fill="#3a3c3a"/>
<rect x="1564" y="340" width="6" height="1" fill="#3a3c3a"/>
<rect x="1564" y="312" width="6" height="1" fill="#3a3c3a"/>
<rect x="1564" y="284" width="6" height="1" fill="#3a3c3a"/>
<rect x="1564" y="256" width="6" height="1" fill="#3a3c3a"/>
<rect x="1564" y="228" width="6" height="1" fill="#3a3c3a"/>
<rect x="1564" y="200" width="6" height="1" fill="#3a3c3a"/>
<rect x="1564" y="172" width="6" height="1" fill="#3a3c3a"/>
<rect x="1564" y="144" width="6" height="1" fill="#3a3c3a"/>
<rect x="1564" y="116" width="6" height="1" fill="#3a3c3a"/>
<rect x="1564" y="88" width="6" height="1" fill="#3a3c3a"/>
<rect x="1564" y="60" width="6" height="1" fill="#3a3c3a"/>
<rect x="1564" y="32" width="6" height="1" fill="#3a3c3a"/>
<rect x="1564" y="4" width="6" height="1" fill="#3a3c3a"/>
</g>
<g style="font-family:&quot;Liberation Sans&quot;,sans-serif;font-size:10px" fill="#1a1a1a" letter-spacing="-0.5">
<text x="1574.2" y="990.3">1000.00</text>
<text x="1574.2" y="962.3">1010.00</text>
<text x="1574.2" y="934.3">1020.00</text>
<text x="1574.2" y="906.3">1030.00</text>
<text x="1574.2" y="878.3">1040.00</text>
<text x="1574.2" y="850.3">1050.00</text>
<text x="1574.2" y="822.3">1060.00</text>
<text x="1574.2" y="794.3">1070.00</text>
<text x="1574.2" y="766.3">1080.00</text>
<text x="1574.2" y="737.3">1090.00</text>
<text x="1574.2" y="709.3">1100.00</text>
<text x="1574.2" y="681.3">1110.00</text>
<text x="1574.2" y="653.3">1120.00</text>
<text x="1574.2" y="625.3">1130.00</text>
<text x="1574.2" y="597.3">1140.00</text>
<text x="1574.2" y="569.3">1150.00</text>
<text x="1574.2" y="541.3">1160.00</text>
<text x="1574.2" y="513.3">1170.00</text>
<text x="1574.2" y="485.3">1180.00</text>
<text x="1574.2" y="457.3">1190.00</text>
<text x="1574.2" y="429.3">1200.00</text>
<text x="1574.2" y="401.3">1210.00</text>
<text x="1574.2" y="373.3">1220.00</text>
<text x="1574.2" y="344.3">1230.00</text>
<text x="1574.2" y="316.3">1240.00</text>
<text x="1574.2" y="288.3">1250.00</text>
<text x="1574.2" y="260.3">1260.00</text>
<text x="1574.2" y="232.3">1270.00</text>
<text x="1574.2" y="204.3">1280.00</text>
<text x="1574.2" y="176.3">1290.00</text>
<text x="1574.2" y="148.3">1300.00</text>
<text x="1574.2" y="120.3">1310.00</text>
<text x="1574.2" y="92.3">1320.00</text>
<text x="1574.2" y="64.3">1330.00</text>
<text x="1574.2" y="36.3">1340.00</text>
<text x="1574.2" y="8.3">1350.00</text>
</g>
<rect x="1566" y="279" width="49" height="11" fill="#a00000"/>
<rect x="1565" y="529" width="51" height="13" fill="#000"/>
<g style="font-family:&quot;Liberation Sans&quot;,sans-serif;font-size:10px" fill="#fff" letter-spacing="-0.45">
<text x="1571" y="288.5">1250.129</text>
<text x="1571" y="539">1160.822</text>
</g>
<g style="font-family:&quot;Liberation Sans&quot;,sans-serif;font-size:10px" fill="#111" letter-spacing="-0.45">
<text x="1509.5" y="126">1307.652</text>
<text x="1465" y="861">1046.050</text>
<text x="1509.5" y="865">1044.703</text>
</g>
<g shape-rendering="crispEdges">
<rect x="0" y="1002" width="1564" height="1" fill="#3a3c3a"/>
<rect x="1563" y="990" width="1" height="24" fill="#3a3c3a"/>
<rect x="85" y="990" width="1" height="12" fill="#3a3c3a"/>
<rect x="190" y="990" width="1" height="12" fill="#3a3c3a"/>
<rect x="300" y="990" width="1" height="12" fill="#3a3c3a"/>
<rect x="410" y="990" width="1" height="12" fill="#3a3c3a"/>
<rect x="520" y="990" width="1" height="12" fill="#3a3c3a"/>
<rect x="630" y="990" width="1" height="12" fill="#3a3c3a"/>
<rect x="735" y="990" width="1" height="12" fill="#3a3c3a"/>
<rect x="845" y="990" width="1" height="12" fill="#3a3c3a"/>
<rect x="960" y="990" width="1" height="12" fill="#3a3c3a"/>
<rect x="1065" y="990" width="1" height="12" fill="#3a3c3a"/>
<rect x="1170" y="990" width="1" height="12" fill="#3a3c3a"/>
<rect x="1285" y="990" width="1" height="12" fill="#3a3c3a"/>
<rect x="1385" y="990" width="1" height="12" fill="#3a3c3a"/>
<rect x="1490" y="990" width="1" height="12" fill="#3a3c3a"/>
<rect x="960" y="1002" width="1" height="12" fill="#3a3c3a"/>
</g>
<g style="font-family:&quot;Liberation Sans&quot;,sans-serif;font-size:10px" fill="#222" letter-spacing="-0.4">
<text x="5" y="1000">Apr 2015</text>
<text x="90" y="1000">May 2015</text>
<text x="195" y="1000">Jun 2015</text>
<text x="305" y="1000">Jul 2015</text>
<text x="415" y="1000">Aug 2015</text>
<text x="525" y="1000">Sep 2015</text>
<text x="635" y="1000">Oct 2015</text>
<text x="740" y="1000">Nov 2015</text>
<text x="850" y="1000">Dec 2015</text>
<text x="965" y="1000">Jan 2016</text>
<text x="1070" y="1000">Feb 2016</text>
<text x="1175" y="1000">Mar 2016</text>
<text x="1290" y="1000">Apr 2016</text>
<text x="1390" y="1000">May 2016</text>
<text x="1495" y="1000">Jun 2016</text>
<text x="469.5" y="1012">2015</text>
<text x="1250" y="1012">2016</text>
</g>
<g style="font-family:&quot;Liberation Sans&quot;,sans-serif;font-size:24px" fill="#000">
<text x="881.5" y="118">2015 high</text>
<text x="841.5" y="546">200-day SMA</text>
<text x="1181.5" y="849.5">2015 low</text>
<text x="976.5" y="887">2010 low</text>
</g>
<polygon points="1529,1 1539,1 1534,6" fill="#3c3c3c"/>
</svg>
</body></html>
